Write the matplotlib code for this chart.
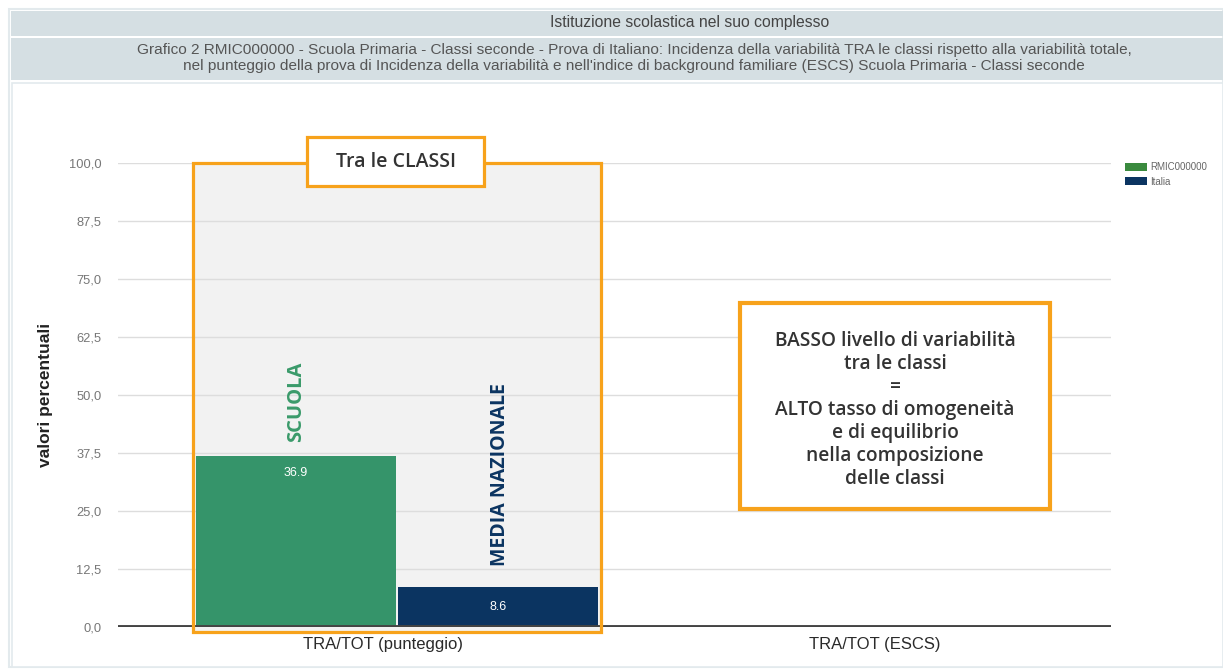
import matplotlib
matplotlib.use('Agg')
import matplotlib.pyplot as plt
from matplotlib.patches import Rectangle, Patch

W, H = 1223, 670

categories = ['TRA/TOT (punteggio)', 'TRA/TOT (ESCS)']
series_names = ['RMIC000000', 'Italia']
scuola_vals = [36.9]
italia_vals = [8.6]
yticks = [0, 12.5, 25, 37.5, 50, 62.5, 75, 87.5, 100]

green = '#35946a'
navy = '#0b3461'
orange = '#f7a21b'
panel = '#d5dfe3'

plt.rcParams['font.family'] = ['Liberation Sans', 'DejaVu Sans']
fig = plt.figure(figsize=(W / 100, H / 100), dpi=100)
fig.patch.set_facecolor('white')


def px(x, y, w, h):
    # pixel box (top-left origin) -> figure fraction
    return (x / W, 1 - (y + h) / H), w / W, h / H


def frect(x, y, w, h, **kw):
    xy, ww, hh = px(x, y, w, h)
    fig.add_artist(Rectangle(xy, ww, hh, transform=fig.transFigure, zorder=-10, **kw))


# header bands
frect(9, 9, 1214, 658, facecolor='white', edgecolor='#e3eaed', lw=1.5)
frect(11, 11, 1212, 25, facecolor=panel, edgecolor='none')
frect(11, 38, 1212, 42, facecolor=panel, edgecolor='none')
frect(12, 83, 1211, 584, facecolor='white', edgecolor='#e3eaed', lw=1.2)

fig.text(690 / W, 1 - 23 / H, 'Istituzione scolastica nel suo complesso',
         ha='center', va='center', fontsize=11.3, color='#444444')
fig.text(634 / W, 1 - 58 / H,
         'Grafico 2 RMIC000000 - Scuola Primaria - Classi seconde - Prova di Italiano: '
         'Incidenza della variabilità TRA le classi rispetto alla variabilità totale,\n'
         "nel punteggio della prova di Incidenza della variabilità e nell'indice di "
         'background familiare (ESCS) Scuola Primaria - Classi seconde',
         ha='center', va='center', fontsize=11.1, color='#555555', linespacing=1.1)

# axes: x=0 at px 383, x=1 at px 875; y 0 at px 627, 100 at px 163
ax = fig.add_axes([118 / W, 43 / H, 993 / W, 464 / H])
ax.set_xlim((118 - 383) / 492, (1111 - 383) / 492)
ax.set_ylim(0, 100)
ax.set_facecolor('none')
for s in ax.spines.values():
    s.set_visible(False)
ax.set_yticks(yticks)
ax.set_yticklabels([f'{v:.1f}'.replace('.', ',') for v in yticks])
ax.tick_params(axis='y', length=0, labelsize=9.3, labelcolor='#777777', pad=12)
ax.set_xticks(range(len(categories)))
ax.set_xticklabels(categories)
ax.tick_params(axis='x', length=0, labelsize=12, labelcolor='#2a2a2a', pad=7)
ax.grid(axis='y', color='#dddddd', lw=1)
ax.set_axisbelow(True)
ax.axhline(0, color='#444444', lw=2.8, zorder=3)
ax.set_ylabel('valori percentuali', fontsize=12.5, color='#222222', fontweight='bold')
ax.yaxis.set_label_coords((53 - 118) / 993, 0.5)

# highlighted group panel
ax.add_patch(Rectangle((-0.386, -1.1), 0.829, 101.1, facecolor='#f2f2f2',
                       edgecolor='none', zorder=0.5, clip_on=False))
ax.add_patch(Rectangle((-0.386, -1.1), 0.829, 101.1, facecolor='none',
                       edgecolor=orange, lw=2.3, zorder=5, clip_on=False))

bw = 0.4065
b1 = ax.bar([-0.177], scuola_vals, width=bw, color=green, zorder=2)
b2 = ax.bar([0.234], italia_vals, width=bw, color=navy, zorder=2)
ax.text(-0.177, scuola_vals[0] - 3.7, f'{scuola_vals[0]:.1f}', ha='center', va='center',
        color='white', fontsize=9, zorder=4)
ax.text(0.234, italia_vals[0] / 2, f'{italia_vals[0]:.1f}', ha='center', va='center',
        color='white', fontsize=9, zorder=4)

bold = dict(family=['Open Sans', 'DejaVu Sans'], fontweight='bold')
ax.text(-0.177, 48.5, 'SCUOLA', rotation=90, ha='center', va='center',
        color='#3a9a6a', fontsize=14.5, **bold)
ax.text(0.238, 32.8, 'MEDIA NAZIONALE', rotation=90, ha='center', va='center',
        color=navy, fontsize=14, **bold)

# "Tra le CLASSI" label box
ax.add_patch(Rectangle((-0.1545, 95.0), 0.36, 10.6, facecolor='white',
                       edgecolor=orange, lw=2.3, zorder=6, clip_on=False))
ax.text(0.0255, 100.3, 'Tra le CLASSI', ha='center', va='center', fontsize=14,
        color='#333333', zorder=7, clip_on=False,
        family=['Open Sans', 'DejaVu Sans'], fontweight='semibold')

# note box
ax.add_patch(Rectangle((0.7256, 25.4), 0.63, 44.4, facecolor='white',
                       edgecolor=orange, lw=3, zorder=6, clip_on=False))
ax.text(1.0407, 46.8, 'BASSO livello di variabilità\ntra le classi\n=\n'
        'ALTO tasso di omogeneità\ne di equilibrio\nnella composizione\ndelle classi',
        ha='center', va='center', fontsize=13.8, color='#333333', zorder=7,
        linespacing=1.2, family=['Open Sans', 'DejaVu Sans'], fontweight='semibold')

handles = [Patch(facecolor='#3a8a3e', edgecolor='none'), Patch(facecolor=navy, edgecolor='none')]
fig.legend(handles, series_names, loc='upper left', bbox_to_anchor=(1121 / W, 1 - 158 / H),
           frameon=False, fontsize=7, labelcolor='#666666', handlelength=2.3,
           handleheight=0.9, handletextpad=0.3, labelspacing=0.5, borderaxespad=0)

fig.savefig('out.png', dpi=100)
